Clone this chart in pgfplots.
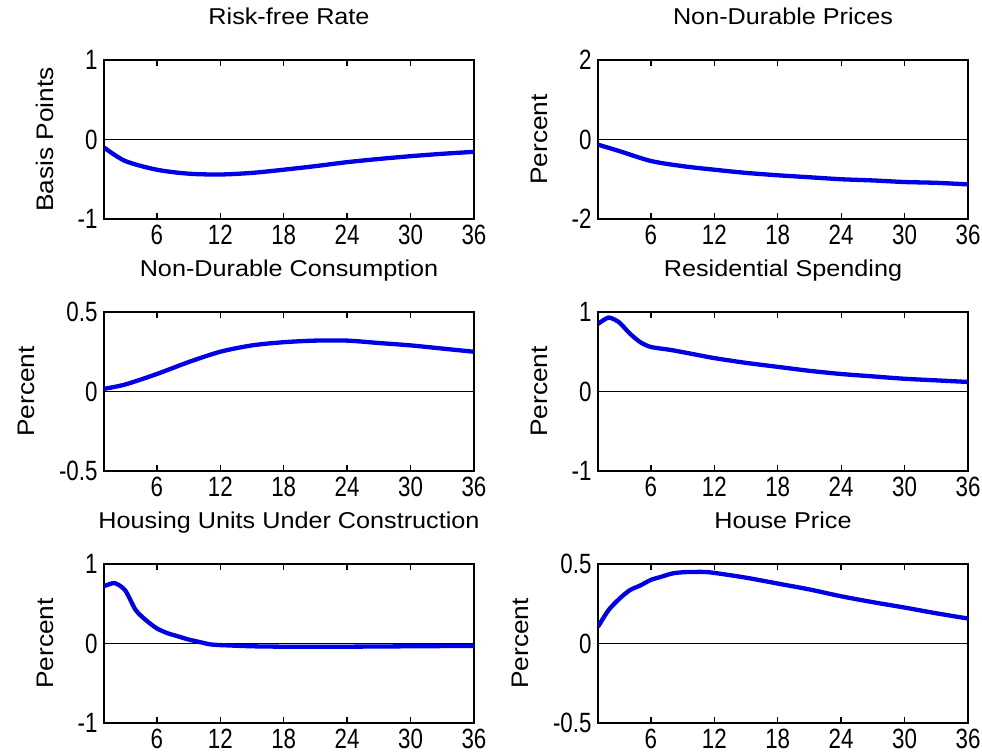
\documentclass[border=0pt]{standalone}
\usepackage{fontspec}
\setmainfont{Liberation Sans}
\newfontfamily\tickfont{Liberation Sans}[FakeStretch=0.8]
\newfontfamily\titlefont{Liberation Sans}[FakeStretch=1.1]
\usepackage{pgfplots}
\pgfplotsset{compat=1.18}
\definecolor{irfblue}{RGB}{0,0,230}
\pgfplotsset{irf/.style={
  scale only axis, width=370bp, height=159bp, anchor=south west,
  xmin=1, xmax=36, xtick={6,12,18,24,30,36},
  tick align=inside, major tick length=6bp,
  axis line style={line width=1.6bp},
  every tick/.style={black, line width=1.3bp},
  tick label style={font=\tickfont\fontsize{28}{28}\selectfont},
  /pgf/number format/assume math mode=true,
  title style={font=\titlefont\fontsize{23}{26}\selectfont, anchor=base, at={(0.5,1)}, yshift=30bp},
  ylabel style={font=\titlefont\fontsize{24}{26}\selectfont, yshift=17bp},
  xticklabel style={yshift=-3bp},
  yticklabel style={xshift=-3bp},
  every axis plot/.append style={no marks},
}}
\newcommand{\zeroline}{\addplot[black, line width=1.8bp, forget plot] coordinates {(1,0) (36,0)};}
\begin{document}
\begin{tikzpicture}
\path[use as bounding box] (0bp,0bp) rectangle (982bp,756bp);
% Row 1 left
\begin{axis}[irf, at={(104bp,537bp)}, ymin=-1, ymax=1, ytick={-1,0,1}, title={Risk-free Rate}, ylabel={Basis Points}]
\zeroline
\addplot[irfblue, line width=4.3bp, smooth, tension=0.5] coordinates {
(1,-0.10) (3,-0.27) (6,-0.38) (9,-0.43) (12,-0.44) (15,-0.42) (18,-0.38) (21,-0.335) (24,-0.285) (27,-0.245) (30,-0.21) (33,-0.18) (36,-0.155)};
\end{axis}
% Row 1 right
\begin{axis}[irf, at={(598bp,537bp)}, ymin=-2, ymax=2, ytick={-2,0,2}, title={Non-Durable Prices}, ylabel={Percent}]
\zeroline
\addplot[irfblue, line width=4.3bp, smooth, tension=0.5] coordinates {
(1,-0.13) (3,-0.29) (6,-0.54) (9,-0.67) (12,-0.76) (15,-0.84) (18,-0.90) (21,-0.95) (24,-1.0) (27,-1.03) (30,-1.07) (33,-1.09) (36,-1.13)};
\end{axis}
% Row 2 left
\begin{axis}[irf, at={(104bp,285bp)}, ymin=-0.5, ymax=0.5, ytick={-0.5,0,0.5}, title={Non-Durable Consumption}, ylabel={Percent}]
\zeroline
\addplot[irfblue, line width=4.3bp, smooth, tension=0.5] coordinates {
(1,0.017) (3,0.044) (6,0.11) (9,0.185) (12,0.25) (15,0.29) (18,0.31) (21,0.32) (24,0.32) (27,0.305) (30,0.29) (33,0.27) (36,0.25)};
\end{axis}
% Row 2 right
\begin{axis}[irf, at={(598bp,285bp)}, ymin=-1, ymax=1, ytick={-1,0,1}, title={Residential Spending}, ylabel={Percent}]
\zeroline
\addplot[irfblue, line width=4.3bp, smooth, tension=0.4] coordinates {
(1,0.85) (2,0.93) (3,0.87) (4,0.73) (5,0.62) (6,0.56) (8,0.52) (10,0.47) (12,0.42) (15,0.36) (18,0.31) (21,0.26) (24,0.22) (27,0.19) (30,0.16) (33,0.14) (36,0.12)};
\end{axis}
% Row 3 left
\begin{axis}[irf, at={(104bp,33bp)}, ymin=-1, ymax=1, ytick={-1,0,1}, title={Housing Units Under Construction}, ylabel={Percent}]
\zeroline
\addplot[irfblue, line width=4.3bp, smooth, tension=0.4] coordinates {
(1,0.72) (2,0.76) (3,0.67) (4,0.42) (5,0.29) (6,0.19) (7,0.13) (8,0.09) (9,0.05) (10,0.02) (11,-0.01) (12,-0.02) (15,-0.035) (18,-0.04) (24,-0.04) (30,-0.035) (36,-0.03)};
\end{axis}
% Row 3 right
\begin{axis}[irf, at={(598bp,33bp)}, ymin=-0.5, ymax=0.5, ytick={-0.5,0,0.5}, title={House Price}, ylabel={Percent}]
\zeroline
\addplot[irfblue, line width=4.3bp, smooth, tension=0.5] coordinates {
(1,0.105) (2,0.21) (3,0.28) (4,0.335) (5,0.365) (6,0.40) (7,0.42) (8,0.44) (9,0.448) (10,0.45) (11,0.45) (12,0.444) (15,0.414) (18,0.377) (21,0.34) (24,0.297) (27,0.26) (30,0.226) (33,0.19) (36,0.157)};
\end{axis}
\end{tikzpicture}
\end{document}
